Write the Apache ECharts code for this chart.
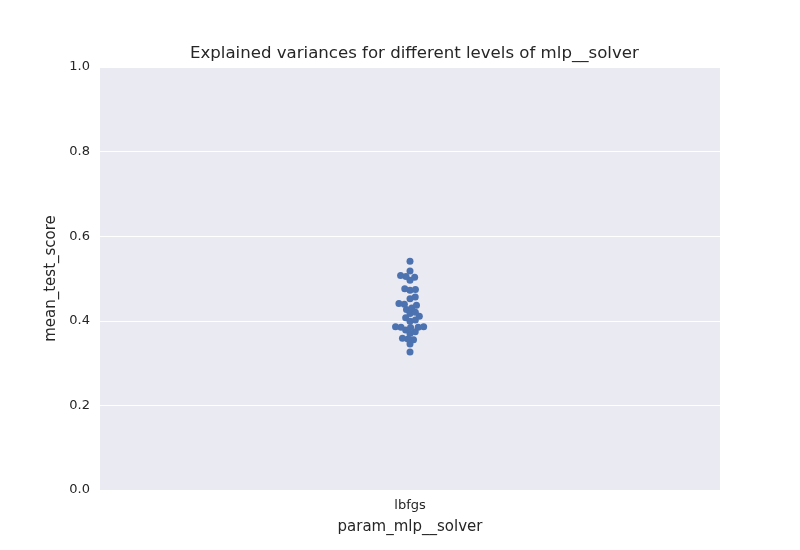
<!DOCTYPE html>
<html>
<head>
<meta charset="utf-8">
<script src="https://cdn.jsdelivr.net/npm/echarts@6/dist/echarts.min.js"></script>
<style>
	html,body{margin:0;padding:0;background:#fff;}
	#chart{width:800px;height:550px;}
</style>
</head>
<body>
<div id="chart"></div>
<script>
	// categories and scores
	var categories = ['lbfgs'];
	var scores = [0.541, 0.518, 0.507, 0.505, 0.503, 0.496, 0.476, 0.474, 0.472, 0.456,
		0.452, 0.441, 0.439, 0.437, 0.430, 0.427, 0.420, 0.417, 0.411, 0.407,
		0.402, 0.399, 0.386, 0.386, 0.385, 0.385, 0.384, 0.378, 0.374, 0.370,
		0.359, 0.357, 0.355, 0.345, 0.326];
	var yTicks = [0, 0.2, 0.4, 0.6, 0.8, 1.0];

	var plotW = 620, plotH = 423; // grid size in px
	var dotSize = 7;
	var gap = 5.5; // spacing used by the swarm, dots overlap a little like the original

	// simple beeswarm: put each point as near the centre as it can go
	function swarm(values){
		var placed = [];
		var sorted = values.slice().sort(function(a,b){return a-b;});
		for(var i=0;i<sorted.length;i++){
			var y = sorted[i]*plotH;
			var cands = [0];
			for(var j=0;j<placed.length;j++){
				var dy = Math.abs(placed[j].y - y);
				if(dy < gap){
					var dx = Math.sqrt(gap*gap - dy*dy);
					cands.push(placed[j].x + dx, placed[j].x - dx);
				}
			}
			cands.sort(function(a,b){return Math.abs(a)-Math.abs(b);});
			var best = 0;
			for(var c=0;c<cands.length;c++){
				var ok = true;
				for(var k=0;k<placed.length;k++){
					var ddx = placed[k].x - cands[c], ddy = placed[k].y - y;
					if(ddx*ddx + ddy*ddy < gap*gap - 0.01){ok=false;break;}
				}
				if(ok){best = cands[c];break;}
			}
			placed.push({x:best, y:y});
		}
		return placed.map(function(p){return [p.x/plotW, p.y/plotH];});
	}

	var chart = echarts.init(document.getElementById('chart'));
	var font = 'DejaVu Sans';
	chart.setOption({
		animation:false,
		title:{
			text:'Explained variances for different levels of mlp__solver',
			left:185, top:40,
			textStyle:{fontFamily:font, fontSize:16.6, fontWeight:'normal', color:'#262626'}
		},
		grid:{left:100, right:80, top:67, bottom:60, show:true, backgroundColor:'#EAEAF2', borderWidth:0},
		xAxis:[{
			type:'category', data:categories,
			name:'param_mlp__solver', nameLocation:'middle', nameGap:30,
			nameTextStyle:{fontFamily:font, fontSize:15, color:'#262626'},
			axisLine:{show:false}, axisTick:{show:false},
			axisLabel:{fontFamily:font, fontSize:13, color:'#262626', margin:9},
			splitLine:{show:false}
		},{
			type:'value', min:-0.5, max:0.5, show:false
		}],
		yAxis:{
			type:'value', min:yTicks[0], max:yTicks[yTicks.length-1], interval:0.2,
			name:'mean_test_score', nameLocation:'middle', nameGap:36,
			nameTextStyle:{fontFamily:font, fontSize:15, color:'#262626'},
			axisLine:{show:false}, axisTick:{show:false},
			axisLabel:{fontFamily:font, fontSize:13, color:'#262626', margin:10,
				formatter:function(v){return v.toFixed(1);}},
			splitLine:{lineStyle:{color:'#ffffff', width:1.2}}
		},
		series:[{
			type:'scatter', xAxisIndex:1,
			data:swarm(scores),
			symbolSize:dotSize,
			itemStyle:{color:'#4C72B0', opacity:1}
		}]
	});
</script>
</body>
</html>
